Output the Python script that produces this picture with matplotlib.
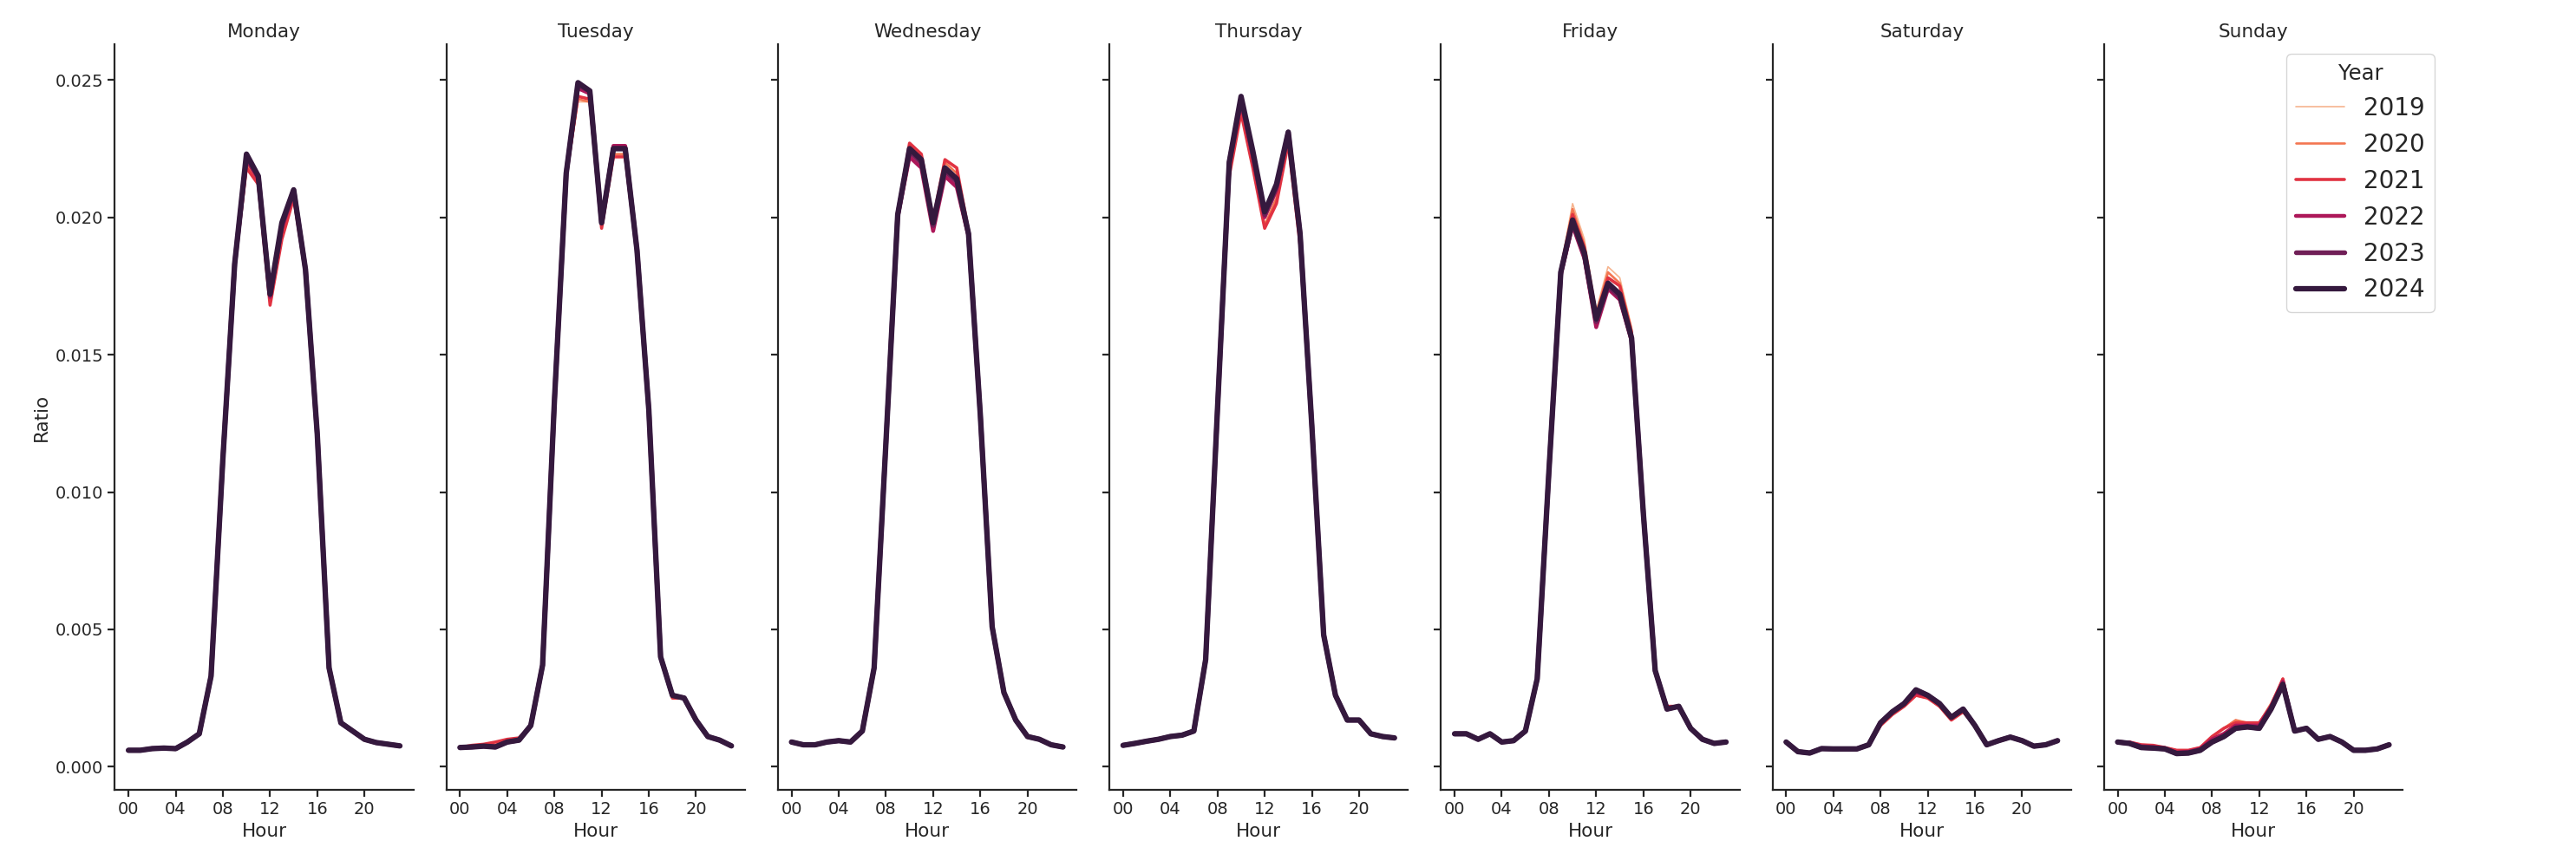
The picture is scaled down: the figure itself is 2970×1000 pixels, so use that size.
import matplotlib
matplotlib.use("Agg")
import matplotlib.pyplot as plt

########## data: share of daily traffic per hour, one list per year

hours = list(range(24))
years = [2019, 2020, 2021, 2022, 2023, 2024]
days = ["Monday", "Tuesday", "Wednesday", "Thursday", "Friday", "Saturday", "Sunday"]
hour_ticks = [0, 4, 8, 12, 16, 20]
hour_labels = ["00", "04", "08", "12", "16", "20"]

monday = {
    2019: [0.0006, 0.0006, 0.00066, 0.00068, 0.00066, 0.0009, 0.0012, 0.0033, 0.0112, 0.0182, 0.0220, 0.0213, 0.0170, 0.0195, 0.0209, 0.0180, 0.0121, 0.0036, 0.0016, 0.0013, 0.0010, 0.00088, 0.00082, 0.00076],
    2020: [0.0006, 0.0006, 0.00066, 0.00068, 0.00066, 0.0009, 0.0012, 0.0033, 0.0112, 0.0182, 0.0219, 0.0213, 0.0169, 0.0194, 0.0208, 0.0180, 0.0121, 0.0036, 0.0016, 0.0013, 0.0010, 0.00088, 0.00082, 0.00076],
    2021: [0.0006, 0.0006, 0.00066, 0.00068, 0.00066, 0.0009, 0.0012, 0.0033, 0.0112, 0.0182, 0.0218, 0.0212, 0.0168, 0.0192, 0.0207, 0.0180, 0.0121, 0.0036, 0.0016, 0.0013, 0.0010, 0.00088, 0.00082, 0.00076],
    2022: [0.0006, 0.0006, 0.00066, 0.00068, 0.00066, 0.0009, 0.0012, 0.0033, 0.0112, 0.0183, 0.0221, 0.0214, 0.0171, 0.0196, 0.0209, 0.0181, 0.0121, 0.0036, 0.0016, 0.0013, 0.0010, 0.00088, 0.00082, 0.00076],
    2023: [0.0006, 0.0006, 0.00066, 0.00068, 0.00066, 0.0009, 0.0012, 0.0033, 0.0112, 0.0183, 0.0222, 0.0215, 0.0172, 0.0197, 0.0210, 0.0181, 0.0121, 0.0036, 0.0016, 0.0013, 0.0010, 0.00088, 0.00082, 0.00076],
    2024: [0.0006, 0.0006, 0.00066, 0.00068, 0.00066, 0.0009, 0.0012, 0.0033, 0.0112, 0.0183, 0.0223, 0.0215, 0.0172, 0.0198, 0.0210, 0.0181, 0.0121, 0.0036, 0.0016, 0.0013, 0.0010, 0.00088, 0.00082, 0.00076],
}

tuesday = {
    2019: [0.0007, 0.00075, 0.0008, 0.0008, 0.00095, 0.001, 0.0015, 0.0037, 0.0132, 0.0214, 0.0242, 0.0242, 0.0197, 0.0223, 0.0223, 0.0187, 0.0130, 0.0040, 0.0026, 0.0025, 0.0017, 0.0011, 0.00097, 0.00076],
    2020: [0.0007, 0.00075, 0.0008, 0.0008, 0.00095, 0.001, 0.0015, 0.0037, 0.0132, 0.0214, 0.0243, 0.0242, 0.0197, 0.0223, 0.0223, 0.0187, 0.0130, 0.0040, 0.0026, 0.0025, 0.0017, 0.0011, 0.00097, 0.00076],
    2021: [0.0007, 0.00078, 0.00082, 0.0009, 0.001, 0.00105, 0.0015, 0.0037, 0.0132, 0.0215, 0.0244, 0.0243, 0.0196, 0.0222, 0.0222, 0.0187, 0.0130, 0.0040, 0.0025, 0.0025, 0.0017, 0.0011, 0.00097, 0.00076],
    2022: [0.0007, 0.00072, 0.00075, 0.00075, 0.0009, 0.00097, 0.0015, 0.0037, 0.0133, 0.0216, 0.0247, 0.0245, 0.0198, 0.0226, 0.0226, 0.0188, 0.0130, 0.0040, 0.0026, 0.0025, 0.0017, 0.0011, 0.00097, 0.00076],
    2023: [0.0007, 0.00072, 0.00075, 0.00072, 0.0009, 0.00097, 0.0015, 0.0037, 0.0133, 0.0216, 0.0248, 0.0246, 0.0198, 0.0225, 0.0225, 0.0188, 0.0130, 0.0040, 0.0026, 0.0025, 0.0017, 0.0011, 0.00097, 0.00076],
    2024: [0.0007, 0.00072, 0.00075, 0.00072, 0.0009, 0.00097, 0.0015, 0.0037, 0.0133, 0.0216, 0.0249, 0.0246, 0.0198, 0.0225, 0.0225, 0.0188, 0.0130, 0.0040, 0.0026, 0.0025, 0.0017, 0.0011, 0.00097, 0.00076],
}

wednesday = {
    2019: [0.0009, 0.0008, 0.0008, 0.0009, 0.00095, 0.0009, 0.0013, 0.0036, 0.0118, 0.0201, 0.0226, 0.0222, 0.0198, 0.0220, 0.0216, 0.0194, 0.0128, 0.0051, 0.0027, 0.0017, 0.0011, 0.0010, 0.0008, 0.00072],
    2020: [0.0009, 0.0008, 0.0008, 0.0009, 0.00095, 0.0009, 0.0013, 0.0036, 0.0118, 0.0201, 0.0226, 0.0222, 0.0198, 0.0220, 0.0216, 0.0194, 0.0128, 0.0051, 0.0027, 0.0017, 0.0011, 0.0010, 0.0008, 0.00072],
    2021: [0.0009, 0.0008, 0.0008, 0.0009, 0.00095, 0.0009, 0.0013, 0.0036, 0.0118, 0.0202, 0.0227, 0.0223, 0.0199, 0.0221, 0.0218, 0.0195, 0.0128, 0.0051, 0.0027, 0.0017, 0.0011, 0.0010, 0.0008, 0.00072],
    2022: [0.0009, 0.0008, 0.0008, 0.0009, 0.00095, 0.0009, 0.0013, 0.0036, 0.0118, 0.0200, 0.0222, 0.0218, 0.0195, 0.0215, 0.0211, 0.0193, 0.0128, 0.0051, 0.0027, 0.0017, 0.0011, 0.0010, 0.0008, 0.00072],
    2023: [0.0009, 0.0008, 0.0008, 0.0009, 0.00095, 0.0009, 0.0013, 0.0036, 0.0118, 0.0201, 0.0224, 0.0220, 0.0197, 0.0217, 0.0213, 0.0194, 0.0128, 0.0051, 0.0027, 0.0017, 0.0011, 0.0010, 0.0008, 0.00072],
    2024: [0.0009, 0.0008, 0.0008, 0.0009, 0.00095, 0.0009, 0.0013, 0.0036, 0.0118, 0.0201, 0.0225, 0.0221, 0.0198, 0.0218, 0.0214, 0.0194, 0.0128, 0.0051, 0.0027, 0.0017, 0.0011, 0.0010, 0.0008, 0.00072],
}

thursday = {
    2019: [0.00078, 0.00085, 0.00093, 0.0010, 0.0011, 0.00115, 0.0013, 0.0039, 0.0129, 0.0217, 0.0240, 0.0221, 0.0197, 0.0207, 0.0228, 0.0192, 0.0124, 0.0048, 0.0026, 0.0017, 0.0017, 0.0012, 0.0011, 0.00105],
    2020: [0.00078, 0.00085, 0.00093, 0.0010, 0.0011, 0.00115, 0.0013, 0.0039, 0.0129, 0.0217, 0.0240, 0.0221, 0.0197, 0.0207, 0.0228, 0.0192, 0.0124, 0.0048, 0.0026, 0.0017, 0.0017, 0.0012, 0.0011, 0.00105],
    2021: [0.00078, 0.00085, 0.00093, 0.0010, 0.0011, 0.00115, 0.0013, 0.0039, 0.0128, 0.0215, 0.0238, 0.0218, 0.0196, 0.0205, 0.0227, 0.0190, 0.0124, 0.0048, 0.0026, 0.0017, 0.0017, 0.0012, 0.0011, 0.00105],
    2022: [0.00078, 0.00085, 0.00093, 0.0010, 0.0011, 0.00115, 0.0013, 0.0039, 0.0130, 0.0219, 0.0242, 0.0222, 0.0200, 0.0210, 0.0230, 0.0193, 0.0124, 0.0048, 0.0026, 0.0017, 0.0017, 0.0012, 0.0011, 0.00105],
    2023: [0.00078, 0.00085, 0.00093, 0.0010, 0.0011, 0.00115, 0.0013, 0.0039, 0.0130, 0.0220, 0.0243, 0.0223, 0.0201, 0.0211, 0.0231, 0.0194, 0.0124, 0.0048, 0.0026, 0.0017, 0.0017, 0.0012, 0.0011, 0.00105],
    2024: [0.00078, 0.00085, 0.00093, 0.0010, 0.0011, 0.00115, 0.0013, 0.0039, 0.0130, 0.0220, 0.0244, 0.0224, 0.0202, 0.0212, 0.0231, 0.0194, 0.0124, 0.0048, 0.0026, 0.0017, 0.0017, 0.0012, 0.0011, 0.00105],
}

friday = {
    2019: [0.0012, 0.0012, 0.0010, 0.0012, 0.0009, 0.00095, 0.0013, 0.0032, 0.0109, 0.0182, 0.0205, 0.0192, 0.0166, 0.0182, 0.0178, 0.0160, 0.0093, 0.0035, 0.0021, 0.0022, 0.0014, 0.0010, 0.00085, 0.0009],
    2020: [0.0012, 0.0012, 0.0010, 0.0012, 0.0009, 0.00095, 0.0013, 0.0032, 0.0109, 0.0181, 0.0203, 0.0190, 0.0165, 0.0180, 0.0176, 0.0159, 0.0093, 0.0035, 0.0021, 0.0022, 0.0014, 0.0010, 0.00085, 0.0009],
    2021: [0.0012, 0.0012, 0.0010, 0.0012, 0.0009, 0.00095, 0.0013, 0.0032, 0.0108, 0.0181, 0.0201, 0.0189, 0.0164, 0.0178, 0.0175, 0.0158, 0.0092, 0.0035, 0.0022, 0.0022, 0.0014, 0.0010, 0.00085, 0.0009],
    2022: [0.0012, 0.0012, 0.0010, 0.0012, 0.0009, 0.00095, 0.0013, 0.0032, 0.0108, 0.0179, 0.0197, 0.0185, 0.0160, 0.0174, 0.0170, 0.0155, 0.0092, 0.0035, 0.0021, 0.0022, 0.0014, 0.0010, 0.00085, 0.0009],
    2023: [0.0012, 0.0012, 0.0010, 0.0012, 0.0009, 0.00095, 0.0013, 0.0032, 0.0108, 0.0180, 0.0198, 0.0186, 0.0162, 0.0175, 0.0171, 0.0156, 0.0092, 0.0035, 0.0021, 0.0022, 0.0014, 0.0010, 0.00085, 0.0009],
    2024: [0.0012, 0.0012, 0.0010, 0.0012, 0.0009, 0.00095, 0.0013, 0.0032, 0.0108, 0.0180, 0.0199, 0.0187, 0.0163, 0.0176, 0.0172, 0.0156, 0.0092, 0.0035, 0.0021, 0.0022, 0.0014, 0.0010, 0.00085, 0.0009],
}

saturday = {
    2019: [0.0009, 0.00055, 0.0005, 0.00066, 0.00065, 0.00065, 0.00065, 0.0008, 0.0015, 0.0019, 0.0022, 0.0026, 0.0025, 0.0022, 0.0017, 0.0020, 0.0015, 0.0008, 0.00095, 0.00108, 0.00095, 0.00075, 0.0008, 0.00095],
    2020: [0.0009, 0.00055, 0.0005, 0.00066, 0.00065, 0.00065, 0.00065, 0.0008, 0.0015, 0.0019, 0.0022, 0.0026, 0.0025, 0.0022, 0.0017, 0.0020, 0.0015, 0.0008, 0.00095, 0.00108, 0.00095, 0.00075, 0.0008, 0.00095],
    2021: [0.0009, 0.00055, 0.0005, 0.00066, 0.00065, 0.00065, 0.00065, 0.0008, 0.0015, 0.0019, 0.0022, 0.0026, 0.0025, 0.0022, 0.0017, 0.0020, 0.0015, 0.0008, 0.00095, 0.00108, 0.00095, 0.00075, 0.0008, 0.00095],
    2022: [0.0009, 0.00055, 0.0005, 0.00066, 0.00065, 0.00065, 0.00065, 0.0008, 0.0016, 0.0020, 0.0023, 0.0027, 0.0026, 0.0023, 0.0018, 0.0021, 0.0015, 0.0008, 0.00095, 0.00108, 0.00095, 0.00075, 0.0008, 0.00095],
    2023: [0.0009, 0.00055, 0.0005, 0.00066, 0.00065, 0.00065, 0.00065, 0.0008, 0.0016, 0.0020, 0.0023, 0.0028, 0.0026, 0.0023, 0.0018, 0.0021, 0.0015, 0.0008, 0.00095, 0.00108, 0.00095, 0.00075, 0.0008, 0.00095],
    2024: [0.0009, 0.00055, 0.0005, 0.00066, 0.00065, 0.00065, 0.00065, 0.0008, 0.0016, 0.0020, 0.0023, 0.0028, 0.0026, 0.0023, 0.0018, 0.0021, 0.0015, 0.0008, 0.00095, 0.00108, 0.00095, 0.00075, 0.0008, 0.00095],
}

sunday = {
    2019: [0.0009, 0.0009, 0.0008, 0.00078, 0.0007, 0.0006, 0.0006, 0.0007, 0.0011, 0.0014, 0.0017, 0.0016, 0.0016, 0.0023, 0.0032, 0.0013, 0.0014, 0.0010, 0.0011, 0.0009, 0.0006, 0.0006, 0.00065, 0.0008],
    2020: [0.0009, 0.0009, 0.0008, 0.00078, 0.0007, 0.0006, 0.0006, 0.0007, 0.0011, 0.0014, 0.0017, 0.0016, 0.0016, 0.0023, 0.0032, 0.0013, 0.0014, 0.0010, 0.0011, 0.0009, 0.0006, 0.0006, 0.00065, 0.0008],
    2021: [0.0009, 0.0009, 0.0008, 0.00078, 0.0007, 0.0006, 0.0006, 0.0007, 0.0011, 0.0014, 0.0016, 0.0016, 0.0016, 0.0022, 0.0032, 0.0013, 0.0014, 0.0010, 0.0011, 0.0009, 0.0006, 0.0006, 0.00065, 0.0008],
    2022: [0.0009, 0.00088, 0.00075, 0.00072, 0.00068, 0.00052, 0.00055, 0.00065, 0.0010, 0.0012, 0.0015, 0.0015, 0.0015, 0.0022, 0.0031, 0.0013, 0.0014, 0.0010, 0.0011, 0.0009, 0.0006, 0.0006, 0.00065, 0.0008],
    2023: [0.0009, 0.00085, 0.0007, 0.00068, 0.00065, 0.00048, 0.0005, 0.0006, 0.0009, 0.0011, 0.0014, 0.00145, 0.0014, 0.0021, 0.0030, 0.0013, 0.0014, 0.0010, 0.0011, 0.0009, 0.0006, 0.0006, 0.00065, 0.0008],
    2024: [0.0009, 0.00085, 0.0007, 0.00068, 0.00065, 0.00048, 0.0005, 0.0006, 0.0009, 0.0011, 0.0014, 0.00145, 0.0014, 0.0021, 0.0030, 0.0013, 0.0014, 0.0010, 0.0011, 0.0009, 0.0006, 0.0006, 0.00065, 0.0008],
}

day_data = [monday, tuesday, wednesday, thursday, friday, saturday, sunday]

########## style

colors = ['#f6b48f', '#f37651', '#e13342', '#ad1759', '#701f57', '#35193e']   #rocket_r, 6 levels
widths = [1.2, 1.9, 2.6, 3.2, 3.9, 4.5]                                         #size mapped to year
ink = '#262626'

plt.rcParams['font.family'] = 'DejaVu Sans'
plt.rcParams['text.color'] = ink
plt.rcParams['axes.labelcolor'] = ink
plt.rcParams['xtick.color'] = ink
plt.rcParams['ytick.color'] = ink

fig = plt.figure(figsize=(29.7, 10), dpi=100)

left0 = 0.0446      #left of first panel
step = 0.1287       #distance between panels
ax_w = 0.1159
bottom = 0.089
ax_h = 0.86

axes = []
for i, day in enumerate(days):
    if i == 0:
        ax = fig.add_axes([left0 + i * step, bottom, ax_w, ax_h])
    else:
        ax = fig.add_axes([left0 + i * step, bottom, ax_w, ax_h], sharey=axes[0])
    axes.append(ax)

    for j, yr in enumerate(years):
        ax.plot(hours, day_data[i][yr], color=colors[j], lw=widths[j], label=str(yr),
                solid_capstyle='round', solid_joinstyle='round')

    ax.set_title(day, fontsize=15.5, color=ink)
    ax.set_xlabel('Hour', fontsize=15.5)
    ax.set_xticks(hour_ticks)
    ax.set_xticklabels(hour_labels)
    ax.set_xlim(-1.15, 24.15)
    ax.tick_params(axis='both', labelsize=14, length=6, width=1.6, direction='out')
    for s in ['top', 'right']:
        ax.spines[s].set_visible(False)
    for s in ['left', 'bottom']:
        ax.spines[s].set_linewidth(1.6)
        ax.spines[s].set_color(ink)
    if i > 0:
        ax.tick_params(axis='y', labelleft=False)

axes[0].set_ylim(-0.00084, 0.0263)
axes[0].set_yticks([0.0, 0.005, 0.010, 0.015, 0.020, 0.025])
axes[0].set_yticklabels(['0.000', '0.005', '0.010', '0.015', '0.020', '0.025'])
axes[0].set_ylabel('Ratio', fontsize=15.5)

handles, labels = axes[-1].get_legend_handles_labels()
leg = fig.legend(handles, labels, title='Year', loc='upper left',
                 bbox_to_anchor=(2636 / 2970, 1 - 62 / 1000), borderaxespad=0,
                 fontsize=20, title_fontsize=17.5, frameon=True)
leg.get_frame().set_edgecolor('#cccccc')

fig.savefig('out.png', dpi=100)
